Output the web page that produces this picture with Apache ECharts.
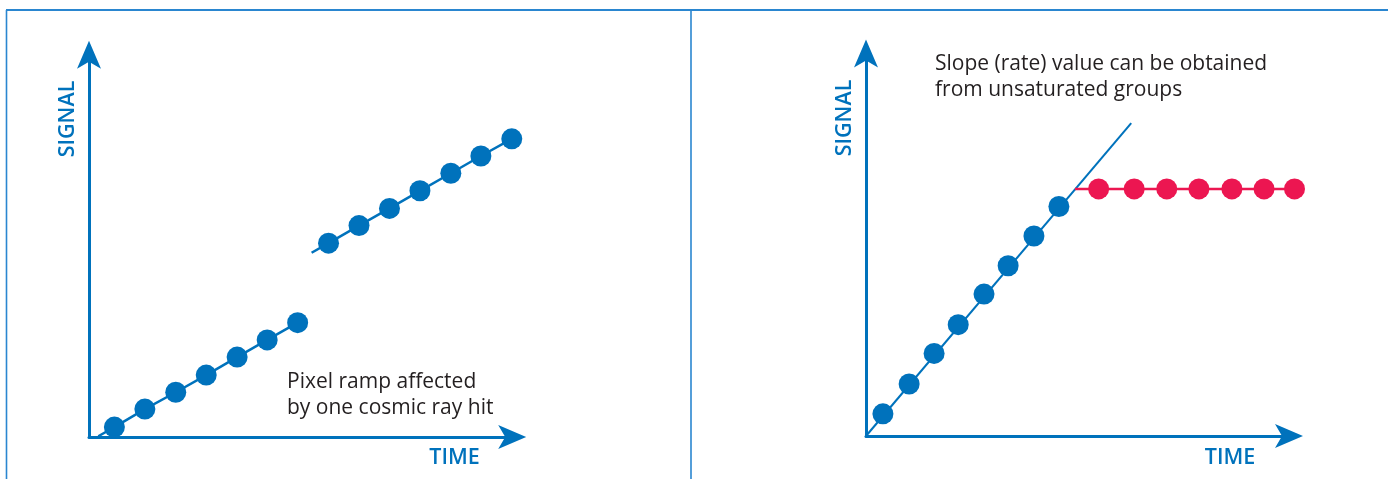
<!DOCTYPE html>
<html>
<head>
<meta charset="utf-8">
<script src="https://cdn.jsdelivr.net/npm/echarts@6/dist/echarts.min.js"></script>
<style>
html,body{margin:0;padding:0;background:#fff;}
#chart{width:1388px;height:479px;}
</style>
</head>
<body>
<div id="chart"></div>
<script>
// ---- Data (arbitrary units: time 0-100, signal 0-100) ----
// Left panel: ramp with a cosmic ray jump
const leftTime1   = [6.0, 13.2, 20.5, 27.7, 35.0, 42.1, 49.3];
const leftSignal1 = [2.6, 7.3, 11.7, 16.2, 20.9, 25.4, 29.9];
const leftTime2   = [56.6, 63.8, 71.0, 78.2, 85.5, 92.6, 99.9];
const leftSignal2 = [50.7, 55.3, 59.8, 64.4, 69.0, 73.5, 78.0];
const leftLineStart1 = [2.2, 0.2];
const leftLineStart2 = [52.6, 48.2];

// Right panel: saturating ramp
const rightBlueTime   = [4.0, 10.2, 16.1, 21.8, 27.9, 33.6, 39.7, 45.6];
const rightBlueSignal = [5.8, 13.6, 21.6, 29.1, 37.1, 44.5, 52.3, 60.0];
const rightFitLine    = [[0, 0], [62.7, 81.8]];
const rightRedTime    = [55.0, 63.4, 71.1, 78.7, 86.5, 94.1, 101.3];
const rightRedSignal  = [64.6, 64.6, 64.6, 64.6, 64.6, 64.6, 64.6];
const rightRedStart   = [49.4, 64.6];

// Labels
const axisXLabel = 'TIME';
const axisYLabel = 'SIGNAL';
const leftNote  = ['Pixel ramp affected', 'by one cosmic ray hit'];
const rightNote = ['Slope (rate) value can be obtained', 'from unsaturated groups'];

// ---- Styles ----
const BLUE = '#0072bc';
const RED = '#ec1651';
const FRAME = '#2a86d0';
const TEXT = '#231f20';
const FONT = '"Open Sans", "Noto Sans", sans-serif';

function zip(xs, ys) { return xs.map((x, i) => [x, ys[i]]); }

function axisCommon() {
  return {
    type: 'value', min: 0, max: 100,
    axisLine: { show: true, onZero: false, symbol: ['none', 'arrow'], symbolSize: [18, 28],
      symbolOffset: [0, 14],
      lineStyle: { color: BLUE, width: 3 } },
    axisTick: { show: false }, axisLabel: { show: false }, splitLine: { show: false }
  };
}

const chart = echarts.init(document.getElementById('chart'), null, { renderer: 'canvas' });

const DOT = 21;

const option = {
  animation: false,
  backgroundColor: '#fff',
  grid: [
    { left: 89, top: 54.7, width: 423.2, height: 382.3 },
    { left: 866, top: 53.5, width: 423, height: 382.5 }
  ],
  xAxis: [
    Object.assign(axisCommon(), { gridIndex: 0 }),
    Object.assign(axisCommon(), { gridIndex: 1 })
  ],
  yAxis: [
    Object.assign(axisCommon(), { gridIndex: 0 }),
    Object.assign(axisCommon(), { gridIndex: 1 })
  ],
  series: [
    {
      type: 'line', xAxisIndex: 0, yAxisIndex: 0, clip: false,
      data: [{ value: leftLineStart1, symbol: 'none' }].concat(zip(leftTime1, leftSignal1)),
      symbol: 'circle', symbolSize: DOT, showAllSymbol: true,
      lineStyle: { color: BLUE, width: 2.5 }, itemStyle: { color: BLUE }, z: 3
    },
    {
      type: 'line', xAxisIndex: 0, yAxisIndex: 0, clip: false,
      data: [{ value: leftLineStart2, symbol: 'none' }].concat(zip(leftTime2, leftSignal2)),
      symbol: 'circle', symbolSize: DOT, showAllSymbol: true,
      lineStyle: { color: BLUE, width: 2.5 }, itemStyle: { color: BLUE }, z: 3
    },
    {
      type: 'line', xAxisIndex: 1, yAxisIndex: 1, clip: false,
      data: rightFitLine, symbol: 'none',
      lineStyle: { color: BLUE, width: 2 }, z: 2
    },
    {
      type: 'scatter', xAxisIndex: 1, yAxisIndex: 1, clip: false,
      data: zip(rightBlueTime, rightBlueSignal),
      symbol: 'circle', symbolSize: DOT,
      itemStyle: { color: BLUE, opacity: 1 }, z: 4
    },
    {
      type: 'line', xAxisIndex: 1, yAxisIndex: 1, clip: false,
      data: [{ value: rightRedStart, symbol: 'none' }].concat(zip(rightRedTime, rightRedSignal)),
      symbol: 'circle', symbolSize: DOT, showAllSymbol: true,
      lineStyle: { color: RED, width: 2.5 }, itemStyle: { color: RED }, z: 3
    }
  ],
  graphic: [
    // frame
    { type: 'line', shape: { x1: 6, y1: 10, x2: 1388, y2: 10 }, style: { stroke: FRAME, lineWidth: 1.8 }, silent: true },
    { type: 'line', shape: { x1: 6.5, y1: 10, x2: 6.5, y2: 479 }, style: { stroke: FRAME, lineWidth: 1.6 }, silent: true },
    { type: 'line', shape: { x1: 691, y1: 10, x2: 691, y2: 479 }, style: { stroke: FRAME, lineWidth: 1.6 }, silent: true },
    // axis titles
    { type: 'text', x: 454.5, y: 458, style: { text: axisXLabel, fill: BLUE, font: '600 21.5px ' + FONT, textAlign: 'center', textVerticalAlign: 'middle' } },
    { type: 'text', x: 1230, y: 458, style: { text: axisXLabel, fill: BLUE, font: '600 21.5px ' + FONT, textAlign: 'center', textVerticalAlign: 'middle' } },
    { type: 'text', x: 67.5, y: 119, rotation: Math.PI / 2, style: { text: axisYLabel, fill: BLUE, font: '600 21.5px ' + FONT, textAlign: 'center', textVerticalAlign: 'middle' } },
    { type: 'text', x: 844.5, y: 118, rotation: Math.PI / 2, style: { text: axisYLabel, fill: BLUE, font: '600 21.5px ' + FONT, textAlign: 'center', textVerticalAlign: 'middle' } },
    // notes
    { type: 'text', x: 287, y: 382, style: { text: leftNote[0], fill: TEXT, font: '21px ' + FONT, textAlign: 'left', textVerticalAlign: 'middle' } },
    { type: 'text', x: 287, y: 408, style: { text: leftNote[1], fill: TEXT, font: '21px ' + FONT, textAlign: 'left', textVerticalAlign: 'middle' } },
    { type: 'text', x: 935, y: 64, style: { text: rightNote[0], fill: TEXT, font: '21px ' + FONT, textAlign: 'left', textVerticalAlign: 'middle' } },
    { type: 'text', x: 935, y: 90, style: { text: rightNote[1], fill: TEXT, font: '21px ' + FONT, textAlign: 'left', textVerticalAlign: 'middle' } }
  ]
};

chart.setOption(option);
</script>
</body>
</html>
